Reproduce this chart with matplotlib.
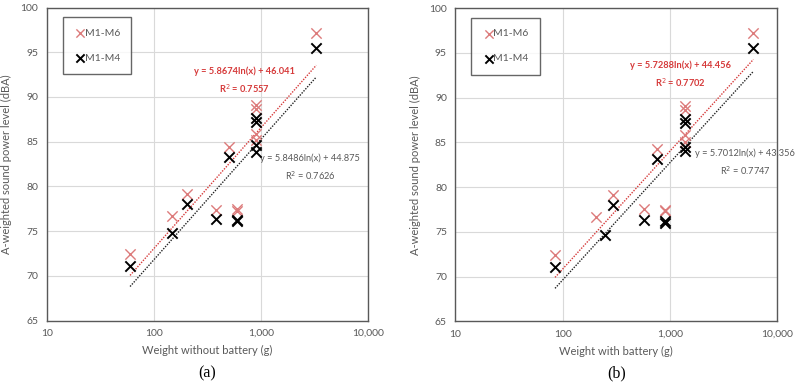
import numpy as np
import matplotlib.pyplot as plt
from matplotlib.ticker import FixedLocator, FixedFormatter, NullLocator

# (a) weight without battery
wa_m6 = [60, 148, 202, 384, 600, 600, 500, 900, 900, 900, 900, 3283]
spl_a_m6 = [72.4, 76.7, 79.2, 77.4, 77.5, 77.3, 84.4, 89.1, 88.7, 85.9, 85.2, 97.2]
wa_m4 = [60, 148, 202, 384, 600, 600, 500, 900, 900, 900, 900, 3283]
spl_a_m4 = [71.1, 74.8, 78.0, 76.4, 76.1, 76.3, 83.3, 87.6, 87.2, 84.6, 83.9, 95.5]

# (b) weight with battery
wb_m6 = [85, 205, 297, 574, 900, 900, 754, 1382, 1382, 1382, 1382, 5987]
spl_b_m6 = [72.4, 76.7, 79.1, 77.5, 77.4, 77.3, 84.3, 89.1, 88.6, 85.8, 85.1, 97.2]
wb_m4 = [85, 247, 297, 574, 900, 900, 754, 1382, 1382, 1382, 1382, 5987]
spl_b_m4 = [71.1, 74.7, 78.0, 76.3, 76.0, 76.2, 83.2, 87.6, 87.2, 84.5, 84.0, 95.6]

# log trend coefficients printed on the chart
fit_a = [(5.8674, 46.041, 0.7557), (5.8486, 44.875, 0.7626)]
fit_b = [(5.7288, 44.456, 0.7702), (5.7012, 43.356, 0.7747)]

RED = '#dc7b7b'
REDLINE = '#d63a3a'
GRAY = '#595959'

plt.rcParams['font.family'] = ['Lato', 'DejaVu Sans']

fig = plt.figure(figsize=(8, 3.87), dpi=100)


def panel(rect, x6, y6, x4, y4, fits, xlabel, caption, eq6_pos, eq4_pos):
    ax = fig.add_axes(rect)
    ax.scatter(x6, y6, marker='x', s=55, color=RED, linewidths=1.0, label='M1-M6', zorder=3)
    ax.scatter(x4, y4, marker='x', s=55, color='black', linewidths=1.4, label='M1-M4', zorder=4)
    for (a, b, r2), xs, c in [(fits[0], x6, REDLINE), (fits[1], x4, '#222222')]:
        xx = np.array([min(xs), max(xs)])
        ax.plot(xx, a * np.log(xx) + b, ls=(0, (1, 1)), color=c, lw=1.0, zorder=2)
    a, b, r2 = fits[0]
    ax.text(eq6_pos[0], eq6_pos[1], 'y = %.4fln(x) + %.3f\nR$^2$ = %.4f' % (a, b, r2),
            transform=ax.transAxes, ha='center', va='center', fontsize=6.7,
            color=REDLINE, fontweight='bold', linespacing=1.6)
    a, b, r2 = fits[1]
    ax.text(eq4_pos[0], eq4_pos[1], 'y = %.4fln(x) + %.3f\nR$^2$ = %.4f' % (a, b, r2),
            transform=ax.transAxes, ha='center', va='center', fontsize=6.7,
            color=GRAY, linespacing=1.6)
    ax.set_xscale('log')
    ax.set_xlim(10, 10000)
    ax.set_ylim(65, 100)
    ax.xaxis.set_major_locator(FixedLocator([10, 100, 1000, 10000]))
    ax.xaxis.set_major_formatter(FixedFormatter(['10', '100', '1,000', '10,000']))
    ax.xaxis.set_minor_locator(NullLocator())
    ax.set_yticks(np.arange(65, 101, 5))
    ax.grid(True, color='#d9d9d9', lw=0.8)
    ax.set_axisbelow(True)
    ax.tick_params(length=0, labelsize=7.5, labelcolor=GRAY, pad=6)
    for s in ax.spines.values():
        s.set_color('#595959')
        s.set_linewidth(1.0)
    ax.set_xlabel(xlabel, fontsize=8, color=GRAY, labelpad=5)
    ax.set_ylabel('A-weighted sound power level (dBA)', fontsize=8, color=GRAY, labelpad=6)
    leg = ax.legend(loc='upper left', bbox_to_anchor=(0.05, 0.97), frameon=True, fancybox=False,
                    fontsize=7.5, labelcolor=GRAY, handletextpad=-0.2, handlelength=1.2,
                    borderpad=1.1, labelspacing=1.5, markerscale=0.8, borderaxespad=0)
    leg.get_frame().set_edgecolor('#404040')
    leg.get_frame().set_linewidth(1.0)
    ax.text(0.5, -0.167, caption, transform=ax.transAxes, ha='center', va='center',
            fontsize=11.5, family='Liberation Serif', color='black')
    return ax


panel([0.0584, 0.1713, 0.4017, 0.8093], wa_m6, spl_a_m6, wa_m4, spl_a_m4, fit_a,
      'Weight without battery (g)', '(a)', (0.614, 0.767), (0.82, 0.4875))
panel([0.5691, 0.1698, 0.4025, 0.8088], wb_m6, spl_b_m6, wb_m4, spl_b_m4, fit_b,
      'Weight with battery (g)', '(b)', (0.698, 0.789), (0.9, 0.507))

fig.savefig('out.png', dpi=100)
